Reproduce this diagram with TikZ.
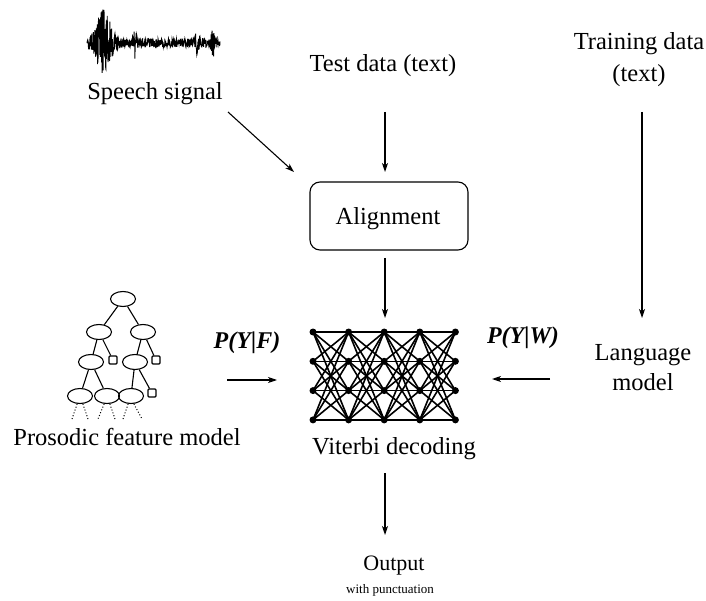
\documentclass[tikz,border=0pt]{standalone}
\usepackage{fontspec}
\setmainfont{Liberation Serif}
\usetikzlibrary{arrows.meta,shapes.geometric}
\begin{document}
\begin{tikzpicture}[x=1pt,y=-1pt,
  declare function={amp(\t)=4.5+30*exp(-((\t-103)/9)^2)+12*exp(-((\t-135)/2)^2)+10*exp(-((\t-197)/2.5)^2)+12*exp(-((\t-213)/2)^2);},
  lbl/.style={font=\fontsize{24.5}{28}\selectfont, inner sep=0pt, anchor=base},
  prob/.style={font=\fontsize{24}{28}\selectfont\bfseries\itshape, inner sep=0pt, anchor=base},
  arr/.style={line width=1.1pt, -{Stealth[length=9pt,width=6pt,inset=2.5pt]}},
  dot/.style={circle, fill=black, inner sep=0pt, minimum size=7pt},
  tlink/.style={line width=1.6pt},
  tnode/.style={ellipse, draw, line width=1.1pt, inner sep=0pt, minimum width=25pt, minimum height=15pt},
  tleaf/.style={rectangle, draw, line width=1.1pt, inner sep=0pt, minimum size=8pt, rounded corners=1pt},
  tedge/.style={line width=1.1pt},
  tdots/.style={line width=1pt, dotted},
  abox/.style={draw, line width=1.1pt, rounded corners=10pt, minimum width=158pt, minimum height=68pt, inner sep=0pt}
]
\useasboundingbox (0,0) rectangle (706,601);

% speech waveform
\pgfmathsetseed{11}
\draw[line width=0.9pt] plot[domain=87:220, samples=520] (\x, {43+amp(\x)*rand});

% texts
\node[lbl] (speech) at (155,100) {Speech signal};
\node[lbl] (test) at (383,72) {Test data (text)};
\node[lbl] (train1) at (639,50) {Training data};
\node[lbl] (train2) at (639,82) {(text)};
\node[abox] (align) at (389,216) {};
\node[lbl] (alignt) at (388,225) {Alignment};
\node[prob] (pyf) at (247,348) {P(Y|F)};
\node[prob] (pyw) at (523,343) {P(Y|W)};
\node[lbl] (lang1) at (643,360) {Language};
\node[lbl] (lang2) at (643,390) {model};
\node[lbl] (pros) at (127,445) {Prosodic feature model};
\node[lbl] (vit) at (394,454) {Viterbi decoding};
\node[lbl, font=\fontsize{22}{26}\selectfont] (out) at (394,570) {Output};
\node[lbl, font=\fontsize{13}{15}\selectfont] (outp) at (390,593) {with punctuation};

% connector end points
\coordinate (sp-a) at (228,112);
\coordinate (sp-b) at (294,172);
\coordinate (te-a) at (385,112);
\coordinate (te-b) at (385,172);
\coordinate (al-a) at (385,258);
\coordinate (al-b) at (385,318);
\coordinate (tr-a) at (642,112);
\coordinate (tr-b) at (642,318);
\coordinate (pf-a) at (227,380);
\coordinate (pf-b) at (277,380);
\coordinate (pw-a) at (550,379);
\coordinate (pw-b) at (492,379);
\coordinate (vo-a) at (385,473);
\coordinate (vo-b) at (385,535);

\draw[arr] (sp-a) -- (sp-b);
\draw[arr] (te-a) -- (te-b);
\draw[arr] (al-a) -- (al-b);
\draw[arr] (tr-a) -- (tr-b);
\draw[arr] (pf-a) -- (pf-b);
\draw[arr] (pw-a) -- (pw-b);
\draw[arr] (vo-a) -- (vo-b);

% trellis
\foreach \i in {1,...,5}
  \foreach \j in {1,...,4}
    \node[dot] (t\i\j) at ({313+35.6*(\i-1)},{332+29.3*(\j-1)}) {};
\foreach \i/\k in {1/2,2/3,3/4,4/5}
  \foreach \j in {1,...,4}
    \foreach \l in {1,...,4}
      \draw[tlink] (t\i\j.center) -- (t\k\l.center);

% decision tree
\node[tnode] (r) at (123,299) {};
\node[tnode] (a) at (99,332) {};
\node[tnode] (b) at (143,332) {};
\node[tnode] (aa) at (91,362) {};
\node[tleaf] (ab) at (113,360) {};
\node[tnode] (ba) at (135,362) {};
\node[tleaf] (bb) at (156,360) {};
\node[tnode] (c1) at (80,396) {};
\node[tnode] (c2) at (107,396) {};
\node[tnode] (c3) at (131,396) {};
\node[tleaf] (c4) at (152,393) {};
\draw[tedge] (r) -- (a);
\draw[tedge] (r) -- (b);
\draw[tedge] (a) -- (aa);
\draw[tedge] (a) -- (ab);
\draw[tedge] (b) -- (ba);
\draw[tedge] (b) -- (bb);
\draw[tedge] (aa) -- (c1);
\draw[tedge] (aa) -- (c2);
\draw[tedge] (ba) -- (c3);
\draw[tedge] (ba) -- (c4);
\coordinate (d1a) at (72,419);
\coordinate (d1b) at (88,419);
\coordinate (d2a) at (98,419);
\coordinate (d2b) at (115,419);
\coordinate (d3a) at (123,419);
\coordinate (d3b) at (142,419);
\draw[tdots] (c1.250) -- (d1a);
\draw[tdots] (c1.290) -- (d1b);
\draw[tdots] (c2.250) -- (d2a);
\draw[tdots] (c2.290) -- (d2b);
\draw[tdots] (c3.250) -- (d3a);
\draw[tdots] (c3.290) -- (d3b);
\end{tikzpicture}
\end{document}
